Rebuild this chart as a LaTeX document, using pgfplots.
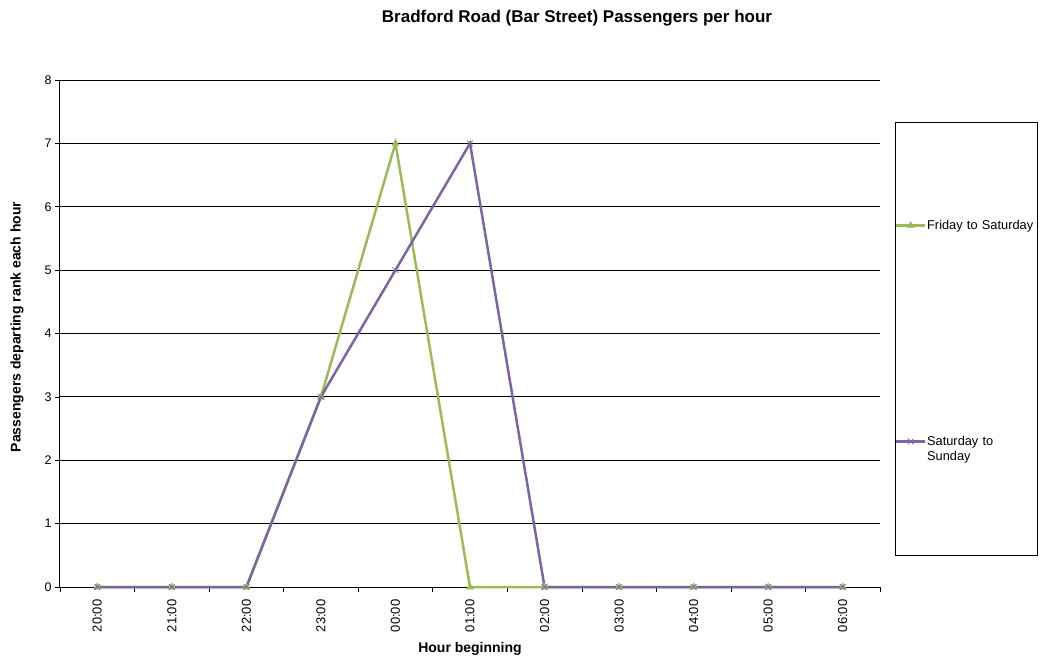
\documentclass[border=0pt]{standalone}
\usepackage{fontspec}
\setmainfont{Liberation Sans}
\usepackage{pgfplots}
\pgfplotsset{compat=1.18}
\definecolor{fri}{HTML}{9BBB59}
\definecolor{sat}{HTML}{8064A2}
\begin{document}
\begin{tikzpicture}
\useasboundingbox (-60pt,-70pt) rectangle (980pt,587pt);
\begin{axis}[
  at={(0pt,0pt)}, anchor=south west,
  scale only axis, width=820pt, height=507pt,
  xmin=-0.5, xmax=10.5, ymin=0, ymax=8,
  clip=false,
  /pgf/number format/assume math mode=true,
  axis x line*=bottom, axis y line*=left,
  axis line style={black, line width=1pt, -},
  xtick={0,...,10},
  xticklabels={20:00,21:00,22:00,23:00,00:00,01:00,02:00,03:00,04:00,05:00,06:00},
  x tick label style={rotate=90, anchor=east, font=\fontsize{13}{15}\selectfont, xshift=-4pt},
  major x tick style={draw=none},
  minor xtick={-0.5,0.5,...,10.5},
  minor x tick style={black, line width=0.6pt},
  minor tick length=5pt,
  ytick={0,...,7},
  extra y ticks={8},
  extra y tick style={grid style={gray, line width=1pt}},
  y tick label style={font=\fontsize{12.5}{15}\selectfont},
  y tick style={black, line width=0.6pt},
  major tick length=5pt,
  tick align=outside,
  ymajorgrids,
  major grid style={black, line width=0.8pt},
  xlabel={\bfseries Hour beginning},
  xlabel style={font=\fontsize{14}{16}\selectfont, at={(axis description cs:0.5,0)}, anchor=center, yshift=-62pt},
  ylabel={\bfseries Passengers departing rank each hour},
  ylabel style={font=\fontsize{14}{16}\selectfont, at={(axis description cs:-0.0524,0.513)}, anchor=center},
  legend style={draw=none, fill=none, at={(1.0183,0.917)}, anchor=north west,
    inner xsep=0pt, inner ysep=97pt, row sep=203pt,
    nodes={text width=107pt, align=left, font=\fontsize{12.8}{15}\selectfont, inner sep=1pt}},
  legend cell align=left,
  legend image code/.code={
    \draw[mark repeat=2,mark phase=2] plot coordinates {(0cm,0cm) (0.5cm,0cm) (1cm,0cm)};},
]
\addplot[color=fri, line width=2.5pt, mark=triangle*, mark size=4pt, mark options={solid, line width=0.5pt}]
  coordinates {(0,0) (1,0) (2,0) (3,3) (4,7) (5,0) (6,0) (7,0) (8,0) (9,0) (10,0)};
\addlegendentry{Friday to Saturday}
\addplot[color=sat, line width=2.5pt, mark=x, mark size=4pt, mark options={solid, line width=0.8pt}]
  coordinates {(0,0) (1,0) (2,0) (3,3) (4,5) (5,7) (6,0) (7,0) (8,0) (9,0) (10,0)};
\addlegendentry{Saturday to\\Sunday}
\draw[black, line width=0.8pt] (axis description cs:1.0183,0.917) rectangle (axis description cs:1.1915,0.0631);
\node[font=\fontsize{17}{20}\selectfont\bfseries] at (axis description cs:0.6305,1.122) {Bradford Road (Bar Street) Passengers per hour};
\end{axis}
\end{tikzpicture}
\end{document}
